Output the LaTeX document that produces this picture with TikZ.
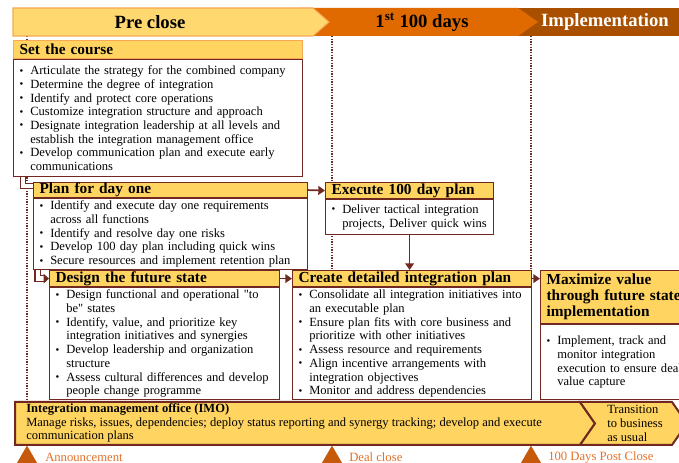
\documentclass[tikz,border=0pt]{standalone}
\usepackage{fontspec}
\setmainfont{Liberation Serif}
\usetikzlibrary{positioning,arrows.meta,shapes.geometric,backgrounds}

\definecolor{gold}{RGB}{255,212,96}
\definecolor{palegold}{RGB}{255,216,112}
\definecolor{amber}{RGB}{248,168,84}
\definecolor{orangeband}{RGB}{224,106,0}
\definecolor{brownband}{RGB}{168,80,0}
\definecolor{dark}{RGB}{112,40,32}
\definecolor{markerc}{RGB}{196,90,10}
\definecolor{markertext}{RGB}{226,112,40}

\newcommand{\bodyfont}{\fontsize{9.4}{10.3}\selectfont}
\newcommand{\headfont}{\fontsize{11.5}{12}\selectfont\bfseries}
\newcommand{\bul}{\makebox[8pt][l]{\raisebox{0.4pt}{\fontsize{8}{8}\selectfont\textbullet}}}
\newcommand{\cnt}{\hspace*{8pt}}

\tikzset{
  head/.style={draw=dark, fill=gold, line width=0.9pt, inner xsep=4.5pt, inner ysep=0pt, align=left, font=\headfont},
  body/.style={draw=dark, fill=white, line width=0.9pt, inner xsep=4.5pt, inner ysep=1pt, align=left, font=\bodyfont},
  arr/.style={draw=dark, line width=1.3pt, -{Triangle[length=5pt,width=6.5pt]}},
  elbow/.style={draw=dark, line width=0.9pt, double=white, double distance=3.2pt},
  timeline/.style={draw=dark, line width=2pt, dash pattern=on 1.1pt off 0.9pt},
  marker/.style={regular polygon, regular polygon sides=3, fill=markerc, minimum size=18pt, inner sep=0pt},
  markerlabel/.style={text=markertext, font=\fontsize{9.5}{10}\selectfont, inner sep=0pt},
  bandlabel/.style={font=\fontsize{14}{14}\selectfont\bfseries, inner sep=0pt}
}

\begin{document}
\begin{tikzpicture}[x=0.75pt, y=-0.75pt]
	\useasboundingbox (0,0) rectangle (679,463);
	\clip (0,0) rectangle (679,463);

	%% Phase band
	\fill[brownband] (510,8) rectangle (690,36);
	\fill[orangeband] (300,8) -- (518,8) -- (538,22) -- (518,36) -- (300,36) -- cycle;
	\draw[amber, fill=palegold, line width=0.8pt] (13,8) -- (313,8) -- (329,22) -- (313,36) -- (13,36) -- cycle;
	\node[bandlabel] (pre) at (150,22) {Pre close};
	\node[bandlabel] (first) at (422,22) {1\textsuperscript{st} 100 days};
	\node[bandlabel, text=white] (impl) at (605,22) {Implementation};
	\coordinate (bandbot) at (0,36);

	%% Steps
	\node[head, draw=amber, anchor=north west, text width=207.75pt, minimum height=13.5pt] (seth) at (13,40) {Set the course};
	\node[body, text width=207.75pt, minimum height=87.75pt, below=0pt of seth] (setb) {%
		\bul Articulate the strategy for the combined company\\
		\bul Determine the degree of integration\\
		\bul Identify and protect core operations\\
		\bul Customize integration structure and approach\\
		\bul Designate integration leadership at all levels and\\
		\cnt establish the integration management office\\
		\bul Develop communication plan and execute early\\
		\cnt communications};

	\node[head, anchor=north west, text width=196.5pt, minimum height=11.25pt] (planh) at (33,182) {Plan for day one};
	\node[body, text width=196.5pt, minimum height=53pt, below=0pt of planh] (planb) {%
		\bul Identify and execute day one requirements\\
		\cnt across all functions\\
		\bul Identify and resolve day one risks\\
		\bul Develop 100 day plan including quick wins\\
		\bul Secure resources and implement retention plan};

	\node[head, anchor=north west, text width=117pt, minimum height=12pt] (exech) at (325,182) {Execute 100 day plan};
	\node[body, text width=117pt, minimum height=26.25pt, below=0pt of exech] (execb) {%
		\bul Deliver tactical integration\\
		\cnt projects, Deliver quick wins};

	\node[head, anchor=north west, text width=163.5pt, minimum height=12pt] (designh) at (49,270) {Design the future state};
	\node[body, text width=163.5pt, minimum height=84pt, below=0pt of designh] (designb) {%
		\bul Design functional and operational \textquotedbl to\\
		\cnt be\textquotedbl{} states\\
		\bul Identify, value, and prioritize key\\
		\cnt integration initiatives and synergies\\
		\bul Develop leadership and organization\\
		\cnt structure\\
		\bul Assess cultural differences and develop\\
		\cnt people change programme};

	\node[head, anchor=north west, text width=170.25pt, minimum height=12pt] (createh) at (292,270) {Create detailed integration plan};
	\node[body, text width=170.25pt, minimum height=84pt, below=0pt of createh] (createb) {%
		\bul Consolidate all integration initiatives into\\
		\cnt an executable plan\\
		\bul Ensure plan fits with core business and\\
		\cnt prioritize with other initiatives\\
		\bul Assess resource and requirements\\
		\bul Align incentive arrangements with\\
		\cnt integration objectives\\
		\bul Monitor and address dependencies};

	\node[head, anchor=north west, text width=141pt, minimum height=39.75pt] (maxh) at (540,270) {Maximize value\\through future state\\implementation};
	\node[body, text width=141pt, minimum height=56.25pt, below=0pt of maxh] (maxb) {%
		\bul Implement, track and\\
		\cnt monitor integration\\
		\cnt execution to ensure deal\\
		\cnt value capture};

	%% Edges
	\draw[elbow] ([xshift=7.5pt]setb.south west) |- ([yshift=-3pt]planh.north west);
	\draw[elbow, -{Triangle[length=4pt,width=7pt]}] ([xshift=3.5pt]planb.south west) |- (designh.west);
	\draw[arr] (planh.east) -- (exech.west);
	\draw[arr] (execb.south) -- (execb.south |- createh.north);
	\draw[arr] (designh.east) -- (createh.west);
	\draw[arr] (createh.east) -- (maxh.west |- createh.east);

	%% IMO bar
	\draw[dark, fill=gold, line width=1.5pt] (15,402) -- (580,402) -- (595,423.5) -- (580,445) -- (15,445) -- cycle;
	\draw[dark, fill=gold, line width=1.5pt] (580,402) -- (672,402) -- (687,423.5) -- (672,445) -- (580,445) -- (595,423.5) -- cycle;
	\node[font=\bodyfont, align=left, anchor=west, inner sep=0pt] (imo) at (26,423) {\textbf{Integration management office (IMO)}\\
		Manage risks, issues, dependencies; deploy status reporting and synergy tracking; develop and execute\\
		communication plans};
	\node[font=\bodyfont, align=left, anchor=west, inner sep=0pt] (trans) at (607,423.5) {Transition\\to business\\as usual};

	%% Milestones
	\node[marker, anchor=corner 1] (ann) at (27,445) {};
	\node[marker, anchor=corner 1] (close) at (332,445) {};
	\node[marker, anchor=corner 1] (post) at (531,445) {};
	\node[markerlabel, anchor=west] (annl) at ([xshift=13.5pt]ann.center) {Announcement};
	\node[markerlabel, anchor=west] (closel) at ([xshift=12.75pt]close.center) {Deal close};
	\node[markerlabel, anchor=west] (postl) at ([xshift=12.75pt]post.center) {100 Days Post Close};

	\begin{scope}[on background layer]
		\draw[timeline] (ann.center |- bandbot) -- (ann.center |- 0,402);
		\draw[timeline] (close.center |- bandbot) -- (close.center |- createh.north);
		\draw[timeline] (post.center |- bandbot) -- (post.center |- createh.north);
	\end{scope}
\end{tikzpicture}
\end{document}
